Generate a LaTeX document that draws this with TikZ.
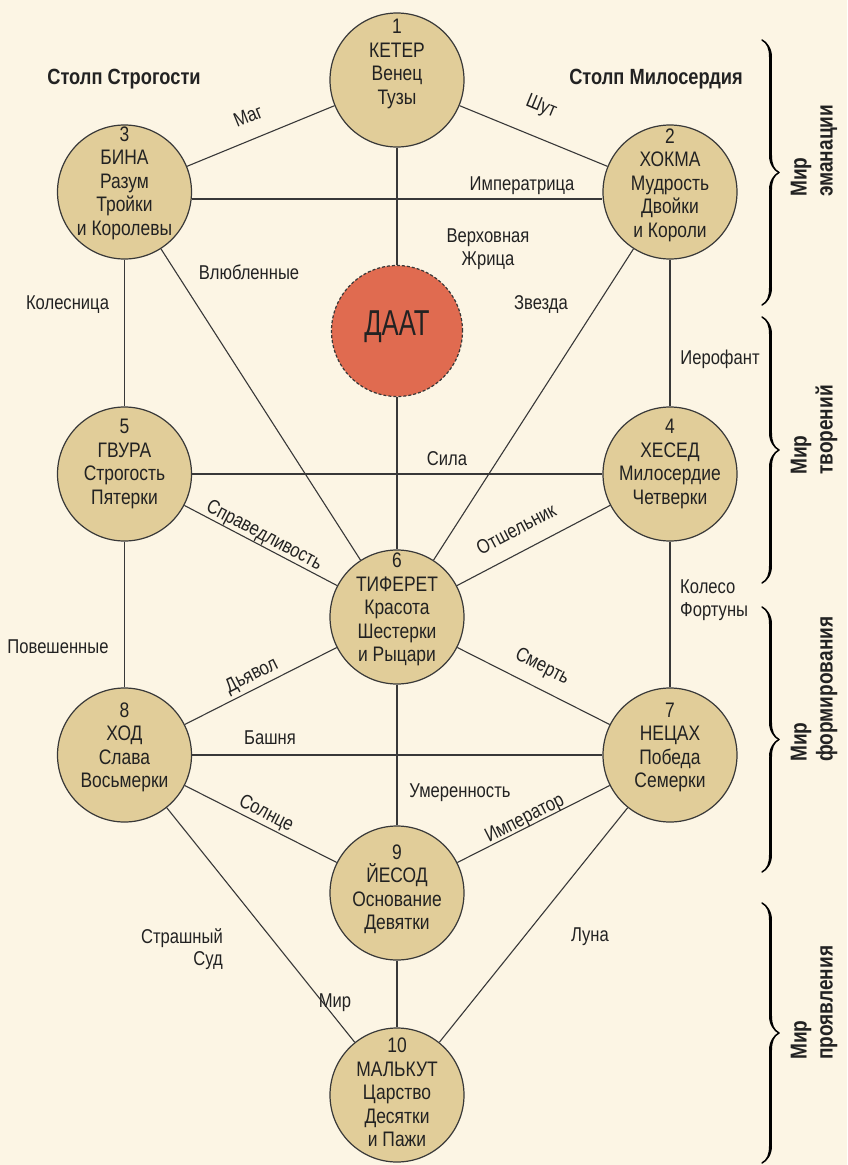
\documentclass[tikz,border=0pt]{standalone}
\usepackage{fontspec}
\setmainfont[FakeStretch=0.83]{Liberation Sans}
\usetikzlibrary{decorations.pathreplacing,calligraphy}
\definecolor{bgc}{HTML}{FCF5E4}
\definecolor{sefc}{HTML}{E1CD99}
\definecolor{daatc}{HTML}{E06B50}
\definecolor{linec}{HTML}{383838}
\definecolor{txtc}{HTML}{222222}
\begin{document}
\begin{tikzpicture}[x=1pt,y=-1pt,
  sef/.style={circle,draw=linec,line width=1.2pt,fill=sefc,minimum size=134pt,inner sep=0pt},
  ntext/.style={align=center,font=\fontsize{21}{23.5}\selectfont,text=txtc,inner sep=0pt},
  lab/.style={font=\fontsize{20}{23}\selectfont,text=txtc,inner sep=0pt},
  conn/.style={draw=linec,line width=1.1pt},
  head/.style={font=\bfseries\fontsize{22}{26}\selectfont,text=txtc,inner sep=0pt},
  world/.style={font=\bfseries\fontsize{23}{26}\selectfont,text=txtc,align=left,rotate=90,anchor=west,inner sep=0pt},
  wbrace/.style={decorate,decoration={calligraphic brace,amplitude=17pt},line width=3pt,draw=txtc}
]
\useasboundingbox (0,0) rectangle (847,1165);
\fill[bgc] (0,0) rectangle (847,1165);

% sefirot
\node[sef] (keter) at (397,80) {};
\node[sef] (chokmah) at (670,192) {};
\node[sef] (bina) at (124.5,192) {};
\node[sef,fill=daatc,dash pattern=on 3pt off 2pt,minimum size=131pt] (daat) at (397,331) {};
\node[sef] (gevura) at (124.5,474) {};
\node[sef] (hesed) at (670,474) {};
\node[sef] (tiferet) at (397,617) {};
\node[sef] (hod) at (124.5,755) {};
\node[sef] (netzach) at (670,755) {};
\node[sef] (yesod) at (397,893) {};
\node[sef] (malkut) at (397,1095) {};

% texts in circles
\node[ntext] (keterT) at ([yshift=16pt]keter.center) {1\\КЕТЕР\\Венец\\Тузы};
\node[ntext] (chokmahT) at ([yshift=7pt]chokmah.center) {2\\ХОКМА\\Мудрость\\Двойки\\и Короли};
\node[ntext] (binaT) at ([yshift=9pt]bina.center) {3\\БИНА\\Разум\\Тройки\\и Королевы};
\node[ntext,font=\fontsize{36}{40}\selectfont] (daatT) at ([yshift=4pt]daat.center) {\scalebox{0.86}[1]{ДААТ}};
\node[ntext] (gevuraT) at ([yshift=10pt]gevura.center) {5\\ГВУРА\\Строгость\\Пятерки};
\node[ntext] (hesedT) at ([yshift=10pt]hesed.center) {4\\ХЕСЕД\\Милосердие\\Четверки};
\node[ntext] (tiferetT) at ([yshift=7.5pt]tiferet.center) {6\\ТИФЕРЕТ\\Красота\\Шестерки\\и Рыцари};
\node[ntext] (hodT) at ([yshift=7.5pt]hod.center) {8\\ХОД\\Слава\\Восьмерки};
\node[ntext] (netzachT) at ([yshift=7.5pt]netzach.center) {7\\НЕЦАХ\\Победа\\Семерки};
\node[ntext] (yesodT) at ([yshift=4pt]yesod.center) {9\\ЙЕСОД\\Основание\\Девятки};
\node[ntext] (malkutT) at ([yshift=2.5pt]malkut.center) {10\\МАЛЬКУТ\\Царство\\Десятки\\и Пажи};

% paths
\draw[conn] (keter) -- (bina);
\draw[conn] (keter) -- (chokmah);
\draw[conn] (keter) -- (daat);
\draw[conn] (daat) -- (tiferet);
\draw[conn] ([yshift=-7pt]bina.east) -- ([yshift=-7pt]chokmah.west);
\draw[conn] (bina) -- (gevura);
\draw[conn] (bina) -- (tiferet);
\draw[conn] (chokmah) -- (hesed);
\draw[conn] (chokmah) -- (tiferet);
\draw[conn] (gevura) -- (hesed);
\draw[conn] (gevura) -- (tiferet);
\draw[conn] (gevura) -- (hod);
\draw[conn] (hesed) -- (tiferet);
\draw[conn] (hesed) -- (netzach);
\draw[conn] (tiferet) -- (hod);
\draw[conn] (tiferet) -- (netzach);
\draw[conn] (tiferet) -- (yesod);
\draw[conn] (hod) -- (netzach);
\draw[conn] (hod) -- (yesod);
\draw[conn] (hod) -- (malkut);
\draw[conn] (netzach) -- (yesod);
\draw[conn] (netzach) -- (malkut);
\draw[conn] (yesod) -- (malkut);

% path labels
\node[lab,rotate=22.3] (lmag) at (248,116) {Маг};
\node[lab,rotate=-22.3] (lshut) at (541,107) {Шут};
\node[lab] (limp) at (522,186) {Императрица};
\node[lab,align=center,font=\fontsize{20}{23}\selectfont] (lzhr) at (488,249) {Верховная\\Жрица};
\node[lab] (lvl) at (249,272) {Влюбленные};
\node[lab] (lzv) at (541,305) {Звезда};
\node[lab] (lkol) at (67.5,305) {Колесница};
\node[lab] (lier) at (720,359) {Иерофант};
\node[lab] (lsil) at (447,459) {Сила};
\node[lab,rotate=-27.7] (lspr) at (264,536) {Справедливость};
\node[lab,rotate=27.7] (lotsh) at (516,529) {Отшельник};
\node[lab,align=left,anchor=west,font=\fontsize{20}{22.5}\selectfont] (lkf) at (680,600) {Колесо\\Фортуны};
\node[lab] (lpov) at (58,647) {Повешенные};
\node[lab,rotate=26.9] (ldv) at (252,676) {Дьявол};
\node[lab,rotate=-26.9] (lsm) at (542,667) {Смерть};
\node[lab] (lbash) at (270,738) {Башня};
\node[lab] (lum) at (460,793) {Умеренность};
\node[lab,rotate=-26.9] (lsol) at (266,814) {Солнце};
\node[lab,rotate=26.9] (limper) at (525,819) {Император};
\node[lab,align=right,anchor=east,font=\fontsize{20}{22.5}\selectfont] (lss) at (223,949) {Страшный\\Суд};
\node[lab] (lluna) at (590,937) {Луна};
\node[lab] (lmir) at (335,1003) {Мир};

% headings
\node[head] (hl) at (124,79) {Столп Строгости};
\node[head] (hr) at (656,79) {Столп Милосердия};

% worlds
\coordinate (b1t) at (762,40);  \coordinate (b1b) at (762,305);
\coordinate (b2t) at (762,317); \coordinate (b2b) at (762,583);
\coordinate (b3t) at (762,607); \coordinate (b3b) at (762,872);
\coordinate (b4t) at (762,903); \coordinate (b4b) at (762,1163);
\draw[wbrace] (b1t) -- (b1b);
\draw[wbrace] (b2t) -- (b2b);
\draw[wbrace] (b3t) -- (b3b);
\draw[wbrace] (b4t) -- (b4b);
\node[world] (w1) at (814,197) {Мир\\эманации};
\node[world] (w2) at (814,475) {Мир\\творений};
\node[world] (w3) at (814,762) {Мир\\формирования};
\node[world] (w4) at (814,1060) {Мир\\проявления};
\end{tikzpicture}
\end{document}
